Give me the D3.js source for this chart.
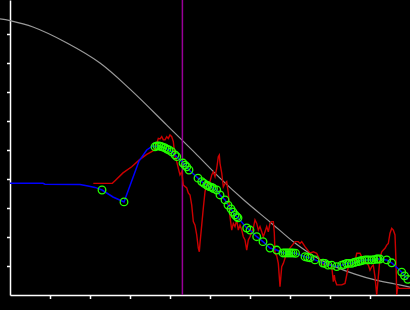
<!DOCTYPE html>
<html>
<head>
<meta charset="utf-8">
<script src="https://cdn.jsdelivr.net/npm/d3@7"></script>
<style>
  html, body { margin:0; padding:0; background:#000; }
  svg { display:block; }
  .axis path, .axis line { stroke:#fff; stroke-width:1.5; }
</style>
</head>
<body>
<div id="chart"></div>
<script>
// model curve (grey)
var modelX = [-0.25, 0, 0.575, 1.425, 2.25, 3.0, 3.92, 4.625, 5.25, 5.875, 6.5, 7.125, 7.625, 8.125, 8.625, 9.125, 9.625, 10];
var modelY = [9.52, 9.46, 9.24, 8.69, 8.0, 7.10, 5.86, 4.90, 4.03, 3.24, 2.52, 1.79, 1.32, 0.98, 0.72, 0.52, 0.38, 0.27];

// raw signal (red)
var rawX = [2.083, 2.558, 2.625, 2.825, 3.043, 3.233, 3.418, 3.575, 3.625, 3.708, 3.75, 3.793, 3.833, 3.875, 3.918, 3.958, 4.0, 4.043, 4.083, 4.125,
  4.168, 4.208, 4.25, 4.293, 4.333, 4.418, 4.458, 4.5, 4.543, 4.583, 4.625, 4.668, 4.708, 4.733, 4.75, 4.793, 4.833, 4.875, 4.918, 4.958,
  5.0, 5.043, 5.083, 5.125, 5.168, 5.208, 5.233, 5.25, 5.293, 5.333, 5.375, 5.418, 5.458, 5.5, 5.543, 5.583, 5.625, 5.668, 5.708, 5.75,
  5.793, 5.833, 5.875, 5.918, 5.958, 6.0, 6.043, 6.083, 6.125, 6.168, 6.208, 6.25, 6.293, 6.333, 6.375, 6.418, 6.458, 6.5, 6.543, 6.583,
  6.608, 6.625, 6.668, 6.708, 6.75, 6.793, 6.833, 6.9, 7.0, 7.125, 7.208, 7.25, 7.293, 7.375, 7.5, 7.583, 7.668, 7.708, 7.793, 7.875,
  7.958, 8.043, 8.058, 8.083, 8.108, 8.125, 8.168, 8.293, 8.375, 8.418, 8.458, 8.543, 8.625, 8.668, 8.75, 8.793, 8.875, 8.958, 9.0, 9.043,
  9.083, 9.125, 9.168, 9.208, 9.25, 9.293, 9.333, 9.375, 9.418, 9.458, 9.5, 9.543, 9.583, 9.625, 9.65, 9.668, 9.693, 9.725, 10.0];
var rawY = [3.85, 3.85, 3.94, 4.21, 4.42, 4.66, 4.85, 4.97, 5.03, 5.40, 5.38, 5.46, 5.35, 5.35, 5.46, 5.40, 5.52, 5.46, 5.29, 4.77,
  4.60, 4.37, 4.14, 4.25, 3.79, 3.69, 3.52, 3.45, 3.10, 2.53, 2.41, 2.07, 1.62, 1.49, 1.79, 2.41, 3.0, 3.56, 3.85, 3.79,
  3.91, 4.14, 4.25, 4.08, 4.37, 4.77, 4.83, 4.54, 4.20, 3.73, 3.85, 3.91, 3.51, 2.70, 2.24, 2.47, 2.36, 2.59, 2.24, 2.41,
  2.24, 2.01, 1.90, 1.55, 1.90, 2.01, 2.18, 2.30, 2.59, 2.47, 2.24, 2.36, 2.18, 2.01, 2.18, 2.36, 2.18, 2.47, 2.53, 2.53,
  2.13, 1.44, 1.35, 1.09, 0.29, 0.98, 1.09, 1.38, 1.62, 1.84, 1.84, 1.78, 1.84, 1.67, 1.44, 1.49, 1.44, 1.32, 1.09, 1.03,
  1.09, 0.98, 0.80, 0.46, 0.69, 0.52, 0.35, 0.35, 0.40, 0.69, 0.98, 1.03, 1.15, 1.44, 1.44, 1.32, 1.15, 1.03, 0.86, 0.98,
  1.03, 0.63, 0.0, 0.63, 1.27, 1.49, 1.55, 1.61, 1.72, 1.78, 2.13, 2.30, 2.24, 2.07, 1.15, 0.0, 0.29, 0.23, 0.23];

// filtered estimate (blue), marked = 1 where a sample circle is drawn
var fitX = [0, 0.825, 0.875, 1.75, 1.95, 2.125, 2.3, 2.575, 2.85, 3.225, 3.418, 3.575,
  3.625, 3.675, 3.725, 3.775, 3.825, 3.875, 3.925, 3.975, 4.043, 4.125, 4.168, 4.325, 4.375, 4.418, 4.475,
  4.7, 4.793, 4.85, 4.918, 4.95, 5.0, 5.05, 5.088, 5.168, 5.25, 5.375, 5.45, 5.525, 5.575, 5.625, 5.668, 5.7,
  5.918, 6.0, 6.168, 6.325, 6.5, 6.668, 6.825, 6.875, 6.925, 6.975, 7.025, 7.075, 7.138, 7.375, 7.438, 7.5, 7.625,
  7.825, 7.875, 7.95, 8.043, 8.168, 8.293, 8.35, 8.418, 8.475, 8.543, 8.6, 8.65, 8.7, 8.75, 8.8, 8.875, 8.925,
  8.975, 9.043, 9.1, 9.168, 9.2, 9.25, 9.418, 9.543, 9.793, 9.863, 9.943];
var fitY = [3.85, 3.85, 3.82, 3.81, 3.76, 3.71, 3.62, 3.38, 3.21, 4.62, 5.0, 5.15,
  5.11, 5.14, 5.14, 5.12, 5.10, 5.07, 5.03, 5.0, 4.94, 4.83, 4.77, 4.55, 4.48, 4.42, 4.31,
  4.03, 3.91, 3.85, 3.79, 3.76, 3.73, 3.71, 3.67, 3.62, 3.45, 3.28, 3.10, 2.97, 2.86, 2.76, 2.70, 2.66,
  2.31, 2.24, 2.01, 1.84, 1.62, 1.55, 1.45, 1.45, 1.45, 1.45, 1.45, 1.45, 1.44, 1.32, 1.30, 1.28, 1.21,
  1.10, 1.09, 1.03, 1.03, 0.98, 1.03, 1.05, 1.09, 1.09, 1.09, 1.12, 1.14, 1.15, 1.17, 1.19, 1.21, 1.21,
  1.21, 1.21, 1.22, 1.24, 1.24, 1.24, 1.21, 1.11, 0.79, 0.66, 0.54];
var fitMarked = [0, 0, 0, 0, 0, 0, 1, 0, 1, 0, 0, 0,
  1, 1, 1, 1, 1, 1, 1, 1, 1, 1, 1, 1, 1, 1, 1,
  1, 1, 1, 1, 1, 1, 1, 1, 1, 1, 1, 1, 1, 1, 1, 1, 1,
  1, 1, 1, 1, 1, 1, 1, 1, 1, 1, 1, 1, 1, 1, 1, 1, 1,
  1, 1, 1, 1, 1, 1, 1, 1, 1, 1, 1, 1, 1, 1, 1, 1, 1,
  1, 1, 1, 1, 1, 1, 1, 1, 1, 1, 1];

var cursorX = 4.31;
var xTicks = [1, 2, 3, 4, 5, 6, 7, 8, 9];
var yTicks = [1, 2, 3, 4, 5, 6, 7, 8, 9];

var margin = {top:0, right:0, bottom:15, left:10};
var width = 410, height = 310;
var w = width - margin.left - margin.right;
var h = height - margin.top - margin.bottom;

var svg = d3.select("#chart").append("svg")
    .attr("width", width)
    .attr("height", height)
    .style("background", "#000")
    .append("g")
    .attr("transform", "translate(" + margin.left + "," + margin.top + ")");

var scaleX = d3.scaleLinear().domain([0, 10]).range([0, w]);
var scaleY = d3.scaleLinear().domain([0, h / 29]).range([h, 0]);

function pts(xs, ys) {
    return xs.map(function(x, i) { return {x:x, y:ys[i], i:i}; });
}

var line = d3.line()
    .x(function(d){ return scaleX(d.x); })
    .y(function(d){ return scaleY(d.y); });

svg.append("g")
    .attr("class", "x axis")
    .attr("transform", "translate(0," + h + ")")
    .call(d3.axisBottom(scaleX).tickValues(xTicks).tickSize(4).tickSizeOuter(0).tickFormat(""));

svg.append("g")
    .attr("class", "y axis")
    .call(d3.axisLeft(scaleY).tickValues(yTicks).tickSize(3).tickSizeOuter(0).tickFormat(""));

// grey model curve
svg.append("path")
    .datum(pts(modelX, modelY))
    .attr("fill", "none")
    .attr("stroke", "#999")
    .attr("stroke-width", 1.2)
    .attr("d", line.curve(d3.curveCatmullRom.alpha(0.5)));

line.curve(d3.curveLinear);

// cursor
svg.append("line")
    .attr("x1", scaleX(cursorX))
    .attr("x2", scaleX(cursorX))
    .attr("y1", 0)
    .attr("y2", h)
    .attr("stroke", "#990099")
    .attr("stroke-width", 1.5);

// red raw signal
svg.append("path")
    .datum(pts(rawX, rawY))
    .attr("fill", "none")
    .attr("stroke", "#cc0000")
    .attr("stroke-width", 1.4)
    .attr("d", line);

// blue fit
var fit = pts(fitX, fitY);
svg.append("path")
    .datum(fit)
    .attr("fill", "none")
    .attr("stroke", "#0000ff")
    .attr("stroke-width", 1.5)
    .attr("d", line);

svg.selectAll(".sample")
    .data(fit.filter(function(d){ return fitMarked[d.i]; }))
    .enter().append("circle")
    .attr("class", "sample")
    .attr("cx", function(d){ return scaleX(d.x); })
    .attr("cy", function(d){ return scaleY(d.y); })
    .attr("r", 3.8)
    .attr("fill", "none")
    .attr("stroke", "#22ff00")
    .attr("stroke-width", 1.3);
</script>
</body>
</html>
